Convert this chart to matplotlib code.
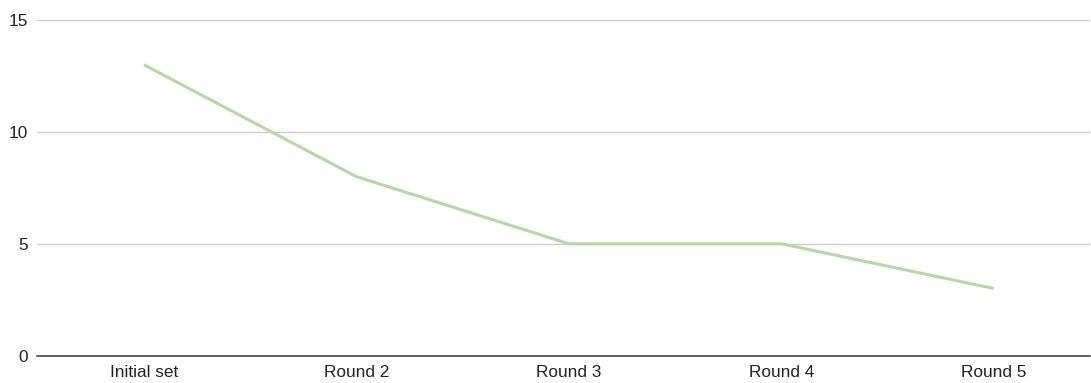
import matplotlib.pyplot as plt

# データ
categories = ["Initial set", "Round 2", "Round 3", "Round 4", "Round 5"]
values = [13, 8, 5, 5, 3]
y_ticks = [0, 5, 10, 15]

plt.rcParams['font.family'] = ['Liberation Sans', 'DejaVu Sans']

fig = plt.figure(figsize=(10.91, 3.83), dpi=100)
ax = fig.add_axes([37 / 1091, 27.3 / 383, (1090 - 37) / 1091, (355.7 - 20) / 383])

x = list(range(len(categories)))
ax.plot(x, values, color="#b6d7a8", linewidth=2.2, solid_capstyle="butt")

# 軸設定
ax.set_xlim(-0.5035, 4.452)
ax.set_ylim(0, 15)
ax.set_xticks(x)
ax.set_xticklabels(categories)
ax.set_yticks(y_ticks)
ax.tick_params(axis="both", length=0, labelsize=12.4, colors="#222222")
ax.tick_params(axis="x", pad=6.8)
ax.tick_params(axis="y", pad=6.5)

ax.grid(axis="y", color="#cccccc", linewidth=1)
ax.set_axisbelow(True)
for side in ["top", "right", "left"]:
    ax.spines[side].set_visible(False)
ax.spines["bottom"].set_color("#333333")
ax.spines["bottom"].set_linewidth(1.1)
ax.spines["bottom"].set_zorder(3)

fig.savefig("out.png", dpi=100)
